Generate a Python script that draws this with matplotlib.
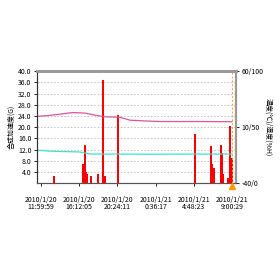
import numpy as np
import matplotlib
matplotlib.use("Agg")
import matplotlib.pyplot as plt

plt.rcParams['font.family'] = ['Noto Sans CJK JP', 'DejaVu Sans']

# time axis: hours after 2010/1/20 11:59:59
tick_hours = [0, 4.2017, 8.4033, 12.605, 16.8067, 21.0083]
tick_labels = ["2010/1/20\n11:59:59", "2010/1/20\n16:12:05", "2010/1/20\n20:24:11",
               "2010/1/21\n0:36:17", "2010/1/21\n4:48:23", "2010/1/21\n9:00:29"]

# acceleration peaks (G)
acc_hours = [1.43, 4.62, 4.84, 4.95, 5.12, 5.50, 6.27, 6.79, 6.82, 7.04, 8.47,
             16.94, 18.70, 18.81, 19.03, 19.80, 19.91, 20.02, 20.57, 20.79, 21.01]
acc_vals = [2.5, 6.8, 13.6, 4.0, 3.2, 2.5, 3.2, 11.8, 36.8, 2.5, 24.3,
            17.5, 13.2, 7.0, 5.4, 13.6, 10.7, 3.2, 1.8, 20.4, 9.0]

# humidity (%) and temperature (C)
hum_hours = [-0.44, 0.99, 3.52, 4.84, 6.82, 8.69, 9.79, 11.44, 13.09, 17.49, 21.01]
hum_vals = [59.5, 60.5, 63.0, 62.5, 59.3, 58.8, 56.2, 55.5, 55.0, 55.0, 54.8]
temp_hours = [-0.44, 0.99, 4.29, 5.39, 12.0, 21.01]
temp_vals = [-10.5, -11.5, -12.2, -14.0, -14.2, -14.0]

fig = plt.figure(figsize=(2.8, 2.8), dpi=100)
ax = fig.add_axes([0.132, 0.346, 0.711, 0.4])
ax2 = ax.twinx()

ax.bar(acc_hours, acc_vals, width=0.15, color='#ff0000', zorder=3)
ax.set_ylim(0, 40)
ax.set_xlim(-0.44, 21.45)
ax.set_yticks(np.arange(4, 41, 4))
ax.set_yticklabels(["%.1f" % v for v in np.arange(4, 41, 4)])
ax.yaxis.grid(True, linestyle=(0, (2, 2)), color='#bbbbbb', linewidth=0.6)
ax.set_axisbelow(True)
ax.set_xticks(tick_hours)
ax.set_xticklabels(tick_labels, linespacing=0.95)
ax.tick_params(axis='both', labelsize=5, length=2, width=0.6, pad=2)
ax.tick_params(axis='x', pad=7)
ax.set_ylabel("合成加速度(G)", fontsize=5, labelpad=2)

# humidity plotted on the temperature scale (-40..60 <-> 0..100%)
ax2.plot(hum_hours, [h - 40 for h in hum_vals], color='#d9559e', linewidth=0.9)
ax2.plot(temp_hours, temp_vals, color='#40e0d0', linewidth=0.9)
ax2.set_ylim(-40, 60)
ax2.set_yticks([-40, 10, 60])
ax2.set_yticklabels(["-40/0", "10/50", "60/100"])
ax2.tick_params(axis='y', labelsize=5, length=2, width=0.6, pad=2)
ax2.set_ylabel("温度(℃)/湿度(%H)", fontsize=5, rotation=-90, labelpad=6)

ax2.axvline(tick_hours[-1], color='#ffa020', linestyle=(0, (2, 2)), linewidth=0.7)
ax2.plot([tick_hours[-1]], [-42.8], marker='^', color='#ff9900', markersize=5,
         clip_on=False, zorder=5)

for a in (ax, ax2):
    a.spines['top'].set_color('#999999')
    a.spines['top'].set_linewidth(2)
    a.spines['right'].set_color('#999999')
    a.spines['right'].set_linewidth(1.5)
    a.spines['left'].set_color('#333333')
    a.spines['bottom'].set_color('#555555')

fig.savefig("out.png", dpi=100)
